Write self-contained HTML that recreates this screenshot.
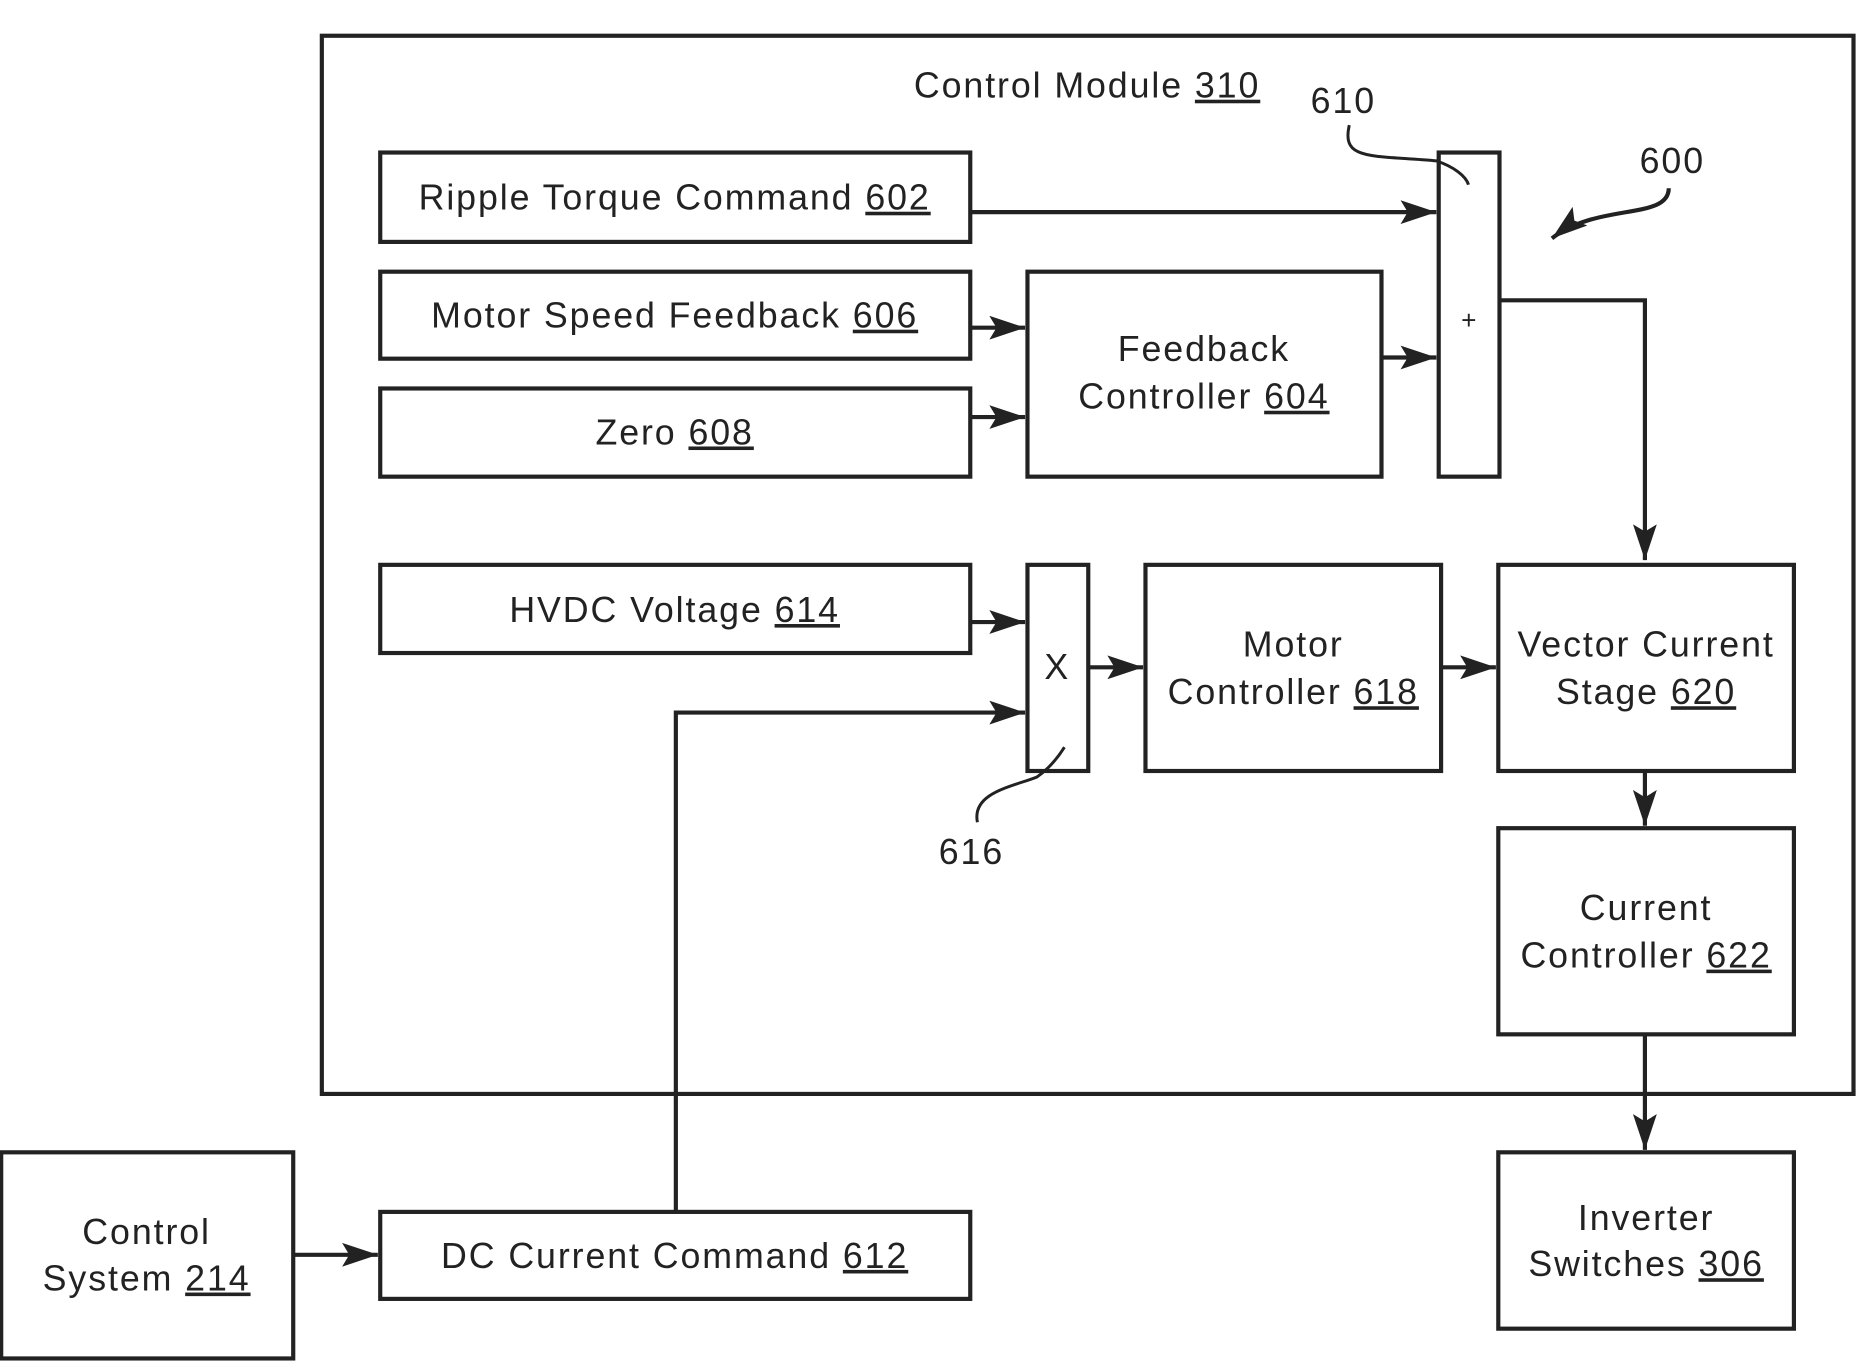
<!DOCTYPE html>
<html><head><meta charset="utf-8"><style>html,body{margin:0;padding:0;background:#fff}svg{display:block}</style></head>
<body>
<svg width="1869" height="1368" viewBox="0 0 1568 1148" preserveAspectRatio="none" xmlns="http://www.w3.org/2000/svg">
<defs>
<marker id="a" viewBox="0 0 30 20" refX="30" refY="10" markerWidth="30" markerHeight="20" markerUnits="userSpaceOnUse" orient="auto"><path d="M0,0 L30,10 L0,20 L6,10 z" fill="#222"/></marker>
</defs>
<g fill="none" stroke="#222" stroke-width="3.5">
<rect x="270" y="30" width="1285" height="888"/>
<rect x="319" y="128" width="495" height="75"/>
<rect x="319" y="228" width="495" height="73"/>
<rect x="319" y="326" width="495" height="74"/>
<rect x="862" y="228" width="297" height="172"/>
<rect x="1207" y="128" width="51" height="272"/>
<rect x="319" y="474" width="495" height="74"/>
<rect x="862" y="474" width="51" height="173"/>
<rect x="961" y="474" width="248" height="173"/>
<rect x="1257" y="474" width="248" height="173"/>
<rect x="1257" y="695" width="248" height="173"/>
<rect x="1257" y="967" width="248" height="148"/>
<rect x="1" y="967" width="245" height="173"/>
<rect x="319" y="1017" width="495" height="73"/>
<g marker-end="url(#a)">
<path d="M814,178 H1205"/>
<path d="M814,275 H860"/>
<path d="M814,350 H860"/>
<path d="M1159,300 H1205"/>
<path d="M1258,252 H1380 V470"/>
<path d="M814,522 H860"/>
<path d="M567,1017 V598 H860"/>
<path d="M913,560 H959"/>
<path d="M1209,560 H1255"/>
<path d="M1380,647 V693"/>
<path d="M1380,868 V965"/>
<path d="M246,1053 H317"/>
<path d="M1400,158 C1400,185 1340,170 1302,200"/>
</g>
<path d="M1132,105 C1125,135 1150,130 1205,135 C1220,140 1230,148 1232,155" stroke-width="2.5"/>
<path d="M820,690 C815,665 850,660 870,652 C880,645 888,635 893,627" stroke-width="2.5"/>
</g>
<g font-family="Liberation Sans, sans-serif" font-size="30" fill="#222" text-anchor="middle" letter-spacing="1.6">
<text x="912" y="82">Control Module <tspan text-decoration="underline">310</tspan></text>
<text x="1127" y="95">610</text>
<text x="1403" y="145">600</text>
<text x="815" y="725">616</text>
<text x="566" y="176">Ripple Torque Command <tspan text-decoration="underline">602</tspan></text>
<text x="566" y="275">Motor Speed Feedback <tspan text-decoration="underline">606</tspan></text>
<text x="566" y="373">Zero <tspan text-decoration="underline">608</tspan></text>
<text x="1010" y="303">Feedback</text>
<text x="1010" y="343">Controller <tspan text-decoration="underline">604</tspan></text>
<text x="1233" y="276" font-size="22">+</text>
<text x="566" y="522">HVDC Voltage <tspan text-decoration="underline">614</tspan></text>
<text x="887" y="570">X</text>
<text x="1085" y="551">Motor</text>
<text x="1085" y="591">Controller <tspan text-decoration="underline">618</tspan></text>
<text x="1381" y="551">Vector Current</text>
<text x="1381" y="591">Stage <tspan text-decoration="underline">620</tspan></text>
<text x="1381" y="772">Current</text>
<text x="1381" y="812">Controller <tspan text-decoration="underline">622</tspan></text>
<text x="1381" y="1032">Inverter</text>
<text x="1381" y="1071">Switches <tspan text-decoration="underline">306</tspan></text>
<text x="123" y="1044">Control</text>
<text x="123" y="1083">System <tspan text-decoration="underline">214</tspan></text>
<text x="566" y="1064">DC Current Command <tspan text-decoration="underline">612</tspan></text>
</g>
</svg>
</body></html>
